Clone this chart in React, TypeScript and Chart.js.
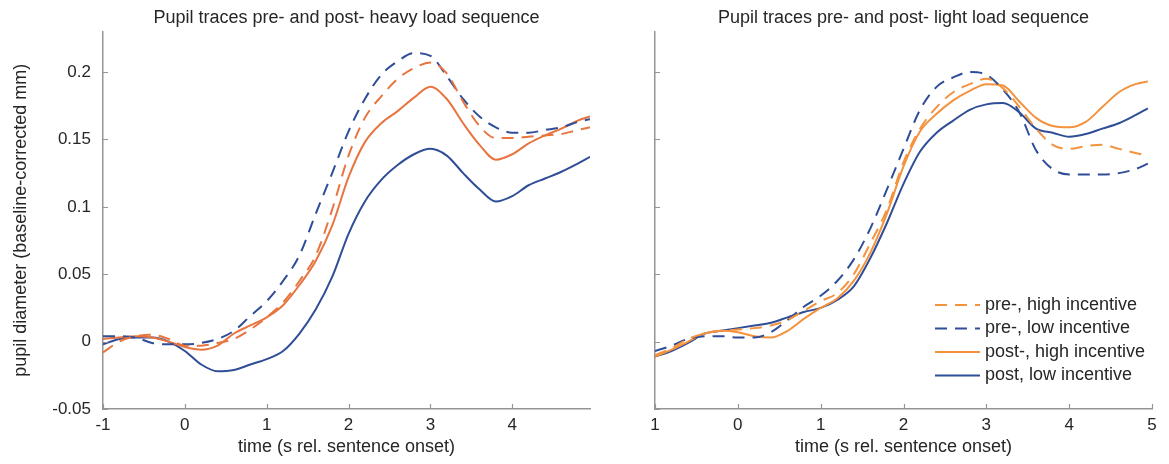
import React, { useEffect, useRef } from 'react';
import { Chart, registerables } from 'chart.js';

Chart.register(...registerables);

// ---------------- data ----------------
const timeHeavy = [-1, -0.8, -0.6, -0.4, -0.2, 0, 0.2, 0.4, 0.6, 0.8, 1, 1.2, 1.4, 1.6, 1.8, 2, 2.2, 2.4, 2.6, 2.8, 3, 3.2, 3.4, 3.6, 3.8, 4, 4.2, 4.4, 4.6, 4.8, 4.95];
const timeLight = [-1, -0.8, -0.6, -0.4, -0.2, 0, 0.2, 0.4, 0.6, 0.8, 1, 1.2, 1.4, 1.6, 1.8, 2, 2.2, 2.4, 2.6, 2.8, 3, 3.2, 3.4, 3.6, 3.8, 4, 4.2, 4.4, 4.6, 4.8, 4.95];

const heavyPreHigh = [-0.008, 0.0, 0.004, 0.005, 0.002, -0.003, -0.003, -0.001, 0.002, 0.009, 0.018, 0.029, 0.045, 0.064, 0.098, 0.138, 0.166, 0.182, 0.195, 0.203, 0.207, 0.199, 0.178, 0.16, 0.151, 0.151, 0.152, 0.153, 0.154, 0.157, 0.159];
const heavyPreLow = [0.004, 0.004, 0.003, -0.001, -0.002, -0.002, -0.001, 0.002, 0.008, 0.019, 0.03, 0.045, 0.064, 0.095, 0.125, 0.156, 0.18, 0.198, 0.208, 0.214, 0.212, 0.197, 0.18, 0.167, 0.159, 0.155, 0.155, 0.157, 0.159, 0.163, 0.165];
const heavyPostHigh = [0.002, 0.003, 0.004, 0.003, 0.0, -0.004, -0.006, -0.003, 0.006, 0.012, 0.018, 0.027, 0.042, 0.06, 0.086, 0.122, 0.148, 0.162, 0.171, 0.181, 0.189, 0.18, 0.162, 0.146, 0.135, 0.139, 0.147, 0.153, 0.158, 0.164, 0.167];
const heavyPostLow = [-0.002, 0.002, 0.003, 0.003, 0.0, -0.007, -0.017, -0.022, -0.021, -0.017, -0.013, -0.007, 0.006, 0.024, 0.048, 0.08, 0.104, 0.12, 0.131, 0.139, 0.143, 0.138, 0.125, 0.113, 0.104, 0.108, 0.116, 0.121, 0.126, 0.132, 0.137];

const lightPreHigh = [-0.01, -0.005, 0.002, 0.006, 0.008, 0.009, 0.01, 0.012, 0.016, 0.023, 0.03, 0.036, 0.05, 0.073, 0.098, 0.133, 0.158, 0.174, 0.185, 0.191, 0.195, 0.188, 0.174, 0.158, 0.146, 0.143, 0.145, 0.146, 0.143, 0.14, 0.138];
const lightPreLow = [-0.007, -0.003, 0.002, 0.004, 0.004, 0.003, 0.003, 0.007, 0.016, 0.026, 0.034, 0.045, 0.061, 0.084, 0.113, 0.143, 0.172, 0.189, 0.196, 0.2, 0.198, 0.187, 0.17, 0.142, 0.128, 0.124, 0.124, 0.124, 0.125, 0.128, 0.132];
const lightPostHigh = [-0.011, -0.006, 0.0, 0.006, 0.008, 0.007, 0.004, 0.003, 0.008, 0.017, 0.025, 0.032, 0.045, 0.066, 0.095, 0.13, 0.156, 0.169, 0.179, 0.186, 0.191, 0.19, 0.178, 0.166, 0.16, 0.159, 0.163, 0.174, 0.185, 0.191, 0.193];
const lightPostLow = [-0.011, -0.007, -0.001, 0.006, 0.008, 0.01, 0.012, 0.014, 0.018, 0.022, 0.025, 0.031, 0.041, 0.062, 0.088, 0.117, 0.141, 0.155, 0.164, 0.172, 0.176, 0.177, 0.17, 0.158, 0.155, 0.152, 0.154, 0.158, 0.162, 0.168, 0.173];

const seriesLabels = ['pre-, high incentive', 'pre-, low incentive', 'post-, high incentive', 'post, low incentive'];

const yTicks = [-0.05, 0, 0.05, 0.1, 0.15, 0.2];
const yTickLabels = ['-0.05', '0', '0.05', '0.1', '0.15', '0.2'];
const heavyXTicks = [-1, 0, 1, 2, 3, 4];
const heavyXTickLabels = ['-1', '0', '1', '2', '3', '4'];
const lightXTicks = [-1, 0, 1, 2, 3, 4, 5];
const lightXTickLabels = ['1', '0', '1', '2', '3', '4', '5'];

const titleHeavy = 'Pupil traces pre- and post- heavy load sequence';
const titleLight = 'Pupil traces pre- and post- light load sequence';
const xTitle = 'time (s rel. sentence onset)';
const yTitle = 'pupil diameter (baseline-corrected mm)';

// ---------------- styles ----------------
const FONT = '"Liberation Sans", Arial, sans-serif';
const TEXT = '#262626';
const AXIS = '#959595';
const BLUE = '#2F4E97';
const ORANGE_HEAVY = '#E8743F';
const ORANGE_LIGHT = '#F4923D';
const DASH = [12, 8];

Chart.defaults.font.family = FONT;
Chart.defaults.color = TEXT;

const inwardTicks = {
  id: 'inwardTicks',
  afterDatasetsDraw(chart: any) {
    const { ctx, chartArea, scales } = chart;
    ctx.save();
    ctx.strokeStyle = AXIS;
    ctx.lineWidth = 1.2;
    ctx.beginPath();
    scales.x.ticks.forEach((t: any) => {
      const px = Math.round(scales.x.getPixelForValue(t.value)) + 0.5;
      ctx.moveTo(px, chartArea.bottom);
      ctx.lineTo(px, chartArea.bottom - 5);
    });
    scales.y.ticks.forEach((t: any) => {
      const py = Math.round(scales.y.getPixelForValue(t.value)) + 0.5;
      ctx.moveTo(chartArea.left, py);
      ctx.lineTo(chartArea.left + 5, py);
    });
    ctx.stroke();
    ctx.restore();
  },
};

const insideLegend = {
  id: 'insideLegend',
  afterDraw(chart: any, _args: any, opts: any) {
    if (!opts || !opts.display) return;
    const { ctx, chartArea } = chart;
    const order: number[] = opts.order;
    const x0 = chartArea.right - opts.dx;
    ctx.save();
    ctx.font = `18px ${FONT}`;
    ctx.textBaseline = 'middle';
    ctx.textAlign = 'left';
    order.forEach((di, i) => {
      const ds = chart.data.datasets[di];
      const y = chartArea.bottom - opts.dy + i * opts.rowH;
      ctx.strokeStyle = ds.borderColor;
      ctx.lineWidth = ds.borderWidth;
      ctx.setLineDash(ds.borderDash || []);
      ctx.beginPath();
      ctx.moveTo(x0, y);
      ctx.lineTo(x0 + 45, y);
      ctx.stroke();
      ctx.setLineDash([]);
      ctx.fillStyle = TEXT;
      ctx.fillText(ds.label, x0 + 50, y);
    });
    ctx.restore();
  },
};

function pts(t: number[], v: number[]) {
  return t.map((x, i) => ({ x, y: v[i] }));
}

function makeDatasets(t: number[], preHigh: number[], preLow: number[], postHigh: number[], postLow: number[], orange: string) {
  const base = { pointRadius: 0, borderWidth: 2, fill: false, cubicInterpolationMode: 'monotone' as const };
  return [
    { ...base, label: seriesLabels[0], data: pts(t, preHigh), borderColor: orange, borderDash: DASH },
    { ...base, label: seriesLabels[1], data: pts(t, preLow), borderColor: BLUE, borderDash: DASH },
    { ...base, label: seriesLabels[2], data: pts(t, postHigh), borderColor: orange },
    { ...base, label: seriesLabels[3], data: pts(t, postLow), borderColor: BLUE },
  ];
}

function buildConfig(opts: {
  title: string;
  datasets: any[];
  xMin: number;
  xMax: number;
  xTicks: number[];
  xLabels: string[];
  yAxisWidth: number;
  showYLabels: boolean;
  padRight: number;
  legend: boolean;
}): any {
  return {
    type: 'line',
    data: { datasets: opts.datasets },
    plugins: [inwardTicks, insideLegend],
    options: {
      responsive: false,
      animation: false,
      devicePixelRatio: 1,
      layout: { padding: { left: 0, right: opts.padRight, top: 0, bottom: 0 } },
      plugins: {
        legend: { display: false },
        tooltip: { enabled: false },
        title: {
          display: true,
          text: opts.title,
          fullSize: false,
          color: TEXT,
          font: { size: 18, weight: 'normal', family: FONT },
          padding: { top: 7, bottom: 3 },
        },
        insideLegend: { display: opts.legend, order: [0, 1, 2, 3], dx: 217, dy: 104, rowH: 23.5 },
      },
      scales: {
        x: {
          type: 'linear',
          min: opts.xMin,
          max: opts.xMax,
          afterBuildTicks: (s: any) => {
            s.ticks = opts.xTicks.map((v) => ({ value: v }));
          },
          afterFit: (s: any) => {
            s.height = 55;
          },
          ticks: {
            autoSkip: false,
            maxRotation: 0,
            padding: 6,
            color: TEXT,
            font: { size: 17, family: FONT },
            callback: (v: any) => {
              const i = opts.xTicks.indexOf(Number(v));
              return i >= 0 ? opts.xLabels[i] : '';
            },
          },
          grid: { display: true, drawOnChartArea: false, drawTicks: false, color: 'rgba(0,0,0,0)' },
          border: { display: true, color: AXIS, width: 1.5 },
          title: {
            display: true,
            text: xTitle,
            color: TEXT,
            font: { size: 18, family: FONT },
            padding: { top: 0, bottom: 6 },
          },
        },
        y: {
          type: 'linear',
          min: -0.05,
          max: 0.23,
          afterBuildTicks: (s: any) => {
            s.ticks = yTicks.map((v) => ({ value: v }));
          },
          afterFit: (s: any) => {
            s.width = opts.yAxisWidth;
          },
          ticks: {
            display: opts.showYLabels,
            padding: 12,
            color: TEXT,
            font: { size: 17, family: FONT },
            callback: (v: any) => {
              const i = yTicks.findIndex((t) => Math.abs(t - Number(v)) < 1e-9);
              return i >= 0 ? yTickLabels[i] : '';
            },
          },
          grid: { display: true, drawOnChartArea: false, drawTicks: false, color: 'rgba(0,0,0,0)' },
          border: { display: true, color: AXIS, width: 1.5 },
          title: {
            display: opts.showYLabels,
            text: yTitle,
            color: TEXT,
            font: { size: 18, family: FONT },
            padding: { top: 10, bottom: 0 },
          },
        },
      },
    },
  };
}

function ChartCanvas({ config, width, height, left }: { config: any; width: number; height: number; left: number }) {
  const ref = useRef<HTMLCanvasElement | null>(null);
  useEffect(() => {
    if (!ref.current) return;
    const chart = new Chart(ref.current, config);
    return () => chart.destroy();
  }, [config]);
  return (
    <canvas
      ref={ref}
      width={width}
      height={height}
      style={{ position: 'absolute', left, top: 0, width, height, display: 'block' }}
    />
  );
}

const heavyConfig = buildConfig({
  title: titleHeavy,
  datasets: makeDatasets(timeHeavy, heavyPreHigh, heavyPreLow, heavyPostHigh, heavyPostLow, ORANGE_HEAVY),
  xMin: -1,
  xMax: 4.95,
  xTicks: heavyXTicks,
  xLabels: heavyXTickLabels,
  yAxisWidth: 103,
  showYLabels: true,
  padRight: 10,
  legend: false,
});

const lightConfig = buildConfig({
  title: titleLight,
  datasets: makeDatasets(timeLight, lightPreHigh, lightPreLow, lightPostHigh, lightPostLow, ORANGE_LIGHT),
  xMin: -1,
  xMax: 5,
  xTicks: lightXTicks,
  xLabels: lightXTickLabels,
  yAxisWidth: 55,
  showYLabels: false,
  padRight: 17,
  legend: true,
});

export default function App() {
  return (
    <div style={{ position: 'absolute', left: 0, top: 0, width: 1169, height: 464, background: '#ffffff', overflow: 'hidden' }}>
      <ChartCanvas config={heavyConfig} width={600} height={464} left={0} />
      <ChartCanvas config={lightConfig} width={569} height={464} left={600} />
    </div>
  );
}
